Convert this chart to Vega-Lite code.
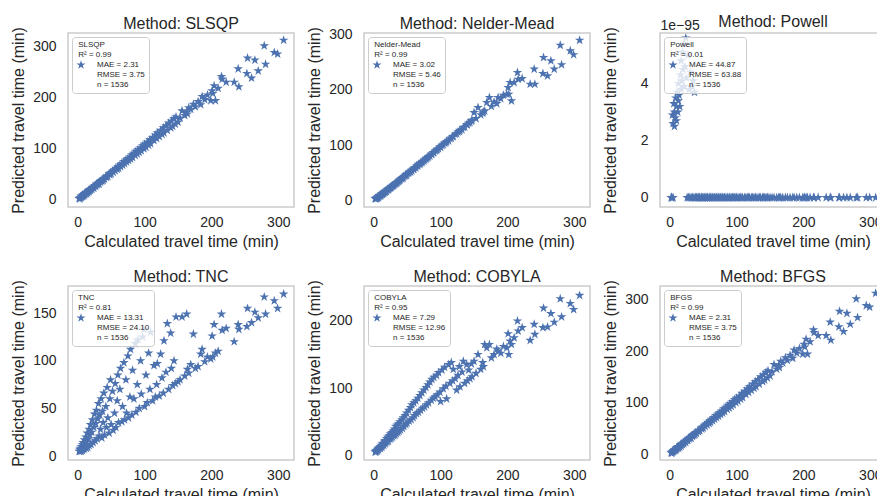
{
"$schema": "https://vega.github.io/schema/vega-lite/v6.json",
"background": "white",
"padding": {"left": 9, "top": 13, "right": 0, "bottom": 0},
"data": {"values": [
{"calc":2,"slsqp":3,"nm":4,"tnc":5,"cobyla":5,"powell":0},
{"calc":3,"slsqp":4,"nm":4,"tnc":7,"cobyla":6,"powell":0},
{"calc":3,"slsqp":2,"nm":5,"tnc":5,"cobyla":5,"powell":0},
{"calc":4,"slsqp":5,"nm":5,"tnc":8,"cobyla":7,"powell":2.9e-95},
{"calc":5,"slsqp":5,"nm":6,"tnc":5,"cobyla":8,"powell":2.6e-95},
{"calc":5,"slsqp":7,"nm":5,"tnc":10,"cobyla":6,"powell":0},
{"calc":6,"slsqp":7,"nm":7,"tnc":6,"cobyla":9,"powell":3.3e-95},
{"calc":7,"slsqp":7,"nm":8,"tnc":12,"cobyla":8,"powell":2.5e-95},
{"calc":7,"slsqp":9,"nm":6,"tnc":6,"cobyla":10,"powell":3.0e-95},
{"calc":8,"slsqp":9,"nm":9,"tnc":14,"cobyla":11,"powell":2.8e-95},
{"calc":9,"slsqp":8,"nm":10,"tnc":7,"cobyla":12,"powell":3.5e-95},
{"calc":10,"slsqp":12,"nm":10,"tnc":17,"cobyla":13,"powell":3.2e-95},
{"calc":10,"slsqp":10,"nm":9,"tnc":8,"cobyla":10,"powell":2.7e-95},
{"calc":11,"slsqp":12,"nm":11,"tnc":12,"cobyla":15,"powell":3.7e-95},
{"calc":12,"slsqp":14,"nm":12,"tnc":20,"cobyla":12,"powell":3.0e-95},
{"calc":13,"slsqp":12,"nm":12,"tnc":8,"cobyla":17,"powell":3.4e-95},
{"calc":13,"slsqp":15,"nm":13,"tnc":15,"cobyla":14,"powell":4.0e-95},
{"calc":14,"slsqp":15,"nm":14,"tnc":24,"cobyla":18,"powell":3.6e-95},
{"calc":15,"slsqp":14,"nm":14,"tnc":9,"cobyla":15,"powell":3.2e-95},
{"calc":16,"slsqp":18,"nm":16,"tnc":18,"cobyla":21,"powell":4.3e-95},
{"calc":17,"slsqp":19,"nm":16,"tnc":28,"cobyla":17,"powell":3.8e-95},
{"calc":17,"slsqp":16,"nm":17,"tnc":11,"cobyla":22,"powell":4.8e-95},
{"calc":18,"slsqp":20,"nm":18,"tnc":22,"cobyla":19,"powell":4.1e-95},
{"calc":19,"slsqp":19,"nm":17,"tnc":33,"cobyla":25,"powell":5.1e-95},
{"calc":20,"slsqp":22,"nm":20,"tnc":12,"cobyla":20,"powell":4.5e-95},
{"calc":21,"slsqp":21,"nm":21,"tnc":25,"cobyla":27,"powell":3.9e-95},
{"calc":22,"slsqp":24,"nm":20,"tnc":38,"cobyla":21,"powell":5.4e-95},
{"calc":23,"slsqp":25,"nm":22,"tnc":14,"cobyla":29,"powell":4.6e-95},
{"calc":24,"slsqp":23,"nm":23,"tnc":30,"cobyla":24,"powell":5.6e-95},
{"calc":25,"slsqp":27,"nm":24,"tnc":44,"cobyla":32,"powell":4.2e-95},
{"calc":26,"slsqp":28,"nm":25,"tnc":16,"cobyla":25,"powell":0},
{"calc":27,"slsqp":27,"nm":26,"tnc":34,"cobyla":34,"powell":5.0e-95},
{"calc":28,"slsqp":31,"nm":27,"tnc":48,"cobyla":27,"powell":0},
{"calc":29,"slsqp":30,"nm":28,"tnc":18,"cobyla":36,"powell":3.8e-95},
{"calc":30,"slsqp":32,"nm":28,"tnc":39,"cobyla":29,"powell":0},
{"calc":31,"slsqp":33,"nm":30,"tnc":55,"cobyla":39,"powell":4.4e-95},
{"calc":32,"slsqp":31,"nm":31,"tnc":21,"cobyla":30,"powell":0},
{"calc":33,"slsqp":36,"nm":31,"tnc":43,"cobyla":43,"powell":3.9e-95},
{"calc":34,"slsqp":35,"nm":33,"tnc":28,"cobyla":32,"powell":0},
{"calc":35,"slsqp":38,"nm":33,"tnc":60,"cobyla":45,"powell":4.1e-95},
{"calc":36,"slsqp":37,"nm":35,"tnc":19,"cobyla":34,"powell":0},
{"calc":37,"slsqp":40,"nm":35,"tnc":47,"cobyla":47,"powell":3.7e-95},
{"calc":38,"slsqp":38,"nm":37,"tnc":35,"cobyla":36,"powell":0},
{"calc":39,"slsqp":42,"nm":37,"tnc":66,"cobyla":50,"powell":0},
{"calc":40,"slsqp":41,"nm":39,"tnc":22,"cobyla":38,"powell":0},
{"calc":42,"slsqp":45,"nm":40,"tnc":52,"cobyla":53,"powell":0},
{"calc":43,"slsqp":44,"nm":42,"tnc":30,"cobyla":40,"powell":0},
{"calc":44,"slsqp":47,"nm":41,"tnc":72,"cobyla":56,"powell":0},
{"calc":45,"slsqp":46,"nm":44,"tnc":40,"cobyla":43,"powell":0},
{"calc":47,"slsqp":51,"nm":45,"tnc":24,"cobyla":59,"powell":0},
{"calc":48,"slsqp":49,"nm":47,"tnc":60,"cobyla":46,"powell":0},
{"calc":49,"slsqp":53,"nm":46,"tnc":80,"cobyla":63,"powell":0},
{"calc":50,"slsqp":51,"nm":49,"tnc":33,"cobyla":48,"powell":0},
{"calc":52,"slsqp":56,"nm":50,"tnc":68,"cobyla":67,"powell":0},
{"calc":53,"slsqp":54,"nm":52,"tnc":27,"cobyla":51,"powell":0},
{"calc":55,"slsqp":59,"nm":52,"tnc":45,"cobyla":71,"powell":0},
{"calc":56,"slsqp":57,"nm":55,"tnc":76,"cobyla":53,"powell":0},
{"calc":57,"slsqp":62,"nm":54,"tnc":30,"cobyla":75,"powell":0},
{"calc":59,"slsqp":60,"nm":57,"tnc":58,"cobyla":56,"powell":0},
{"calc":60,"slsqp":65,"nm":57,"tnc":85,"cobyla":78,"powell":0},
{"calc":61,"slsqp":62,"nm":60,"tnc":35,"cobyla":59,"powell":0},
{"calc":63,"slsqp":68,"nm":60,"tnc":70,"cobyla":81,"powell":0},
{"calc":64,"slsqp":65,"nm":63,"tnc":92,"cobyla":62,"powell":0},
{"calc":66,"slsqp":71,"nm":63,"tnc":36,"cobyla":85,"powell":0},
{"calc":67,"slsqp":68,"nm":66,"tnc":52,"cobyla":64,"powell":0},
{"calc":69,"slsqp":75,"nm":66,"tnc":98,"cobyla":89,"powell":0},
{"calc":70,"slsqp":71,"nm":68,"tnc":38,"cobyla":67,"powell":0},
{"calc":72,"slsqp":78,"nm":69,"tnc":80,"cobyla":93,"powell":0},
{"calc":73,"slsqp":74,"nm":71,"tnc":45,"cobyla":70,"powell":0},
{"calc":75,"slsqp":81,"nm":72,"tnc":105,"cobyla":97,"powell":0},
{"calc":76,"slsqp":77,"nm":74,"tnc":40,"cobyla":72,"powell":0},
{"calc":78,"slsqp":84,"nm":75,"tnc":62,"cobyla":101,"powell":0},
{"calc":79,"slsqp":80,"nm":77,"tnc":112,"cobyla":75,"powell":0},
{"calc":81,"slsqp":88,"nm":78,"tnc":43,"cobyla":105,"powell":0},
{"calc":82,"slsqp":83,"nm":80,"tnc":90,"cobyla":78,"powell":0},
{"calc":84,"slsqp":91,"nm":81,"tnc":60,"cobyla":109,"powell":0},
{"calc":86,"slsqp":87,"nm":84,"tnc":118,"cobyla":82,"powell":0},
{"calc":87,"slsqp":95,"nm":84,"tnc":46,"cobyla":113,"powell":0},
{"calc":89,"slsqp":90,"nm":87,"tnc":75,"cobyla":85,"powell":0},
{"calc":90,"slsqp":98,"nm":87,"tnc":122,"cobyla":116,"powell":0},
{"calc":92,"slsqp":93,"nm":90,"tnc":50,"cobyla":87,"powell":0},
{"calc":94,"slsqp":102,"nm":91,"tnc":100,"cobyla":119,"powell":0},
{"calc":95,"slsqp":96,"nm":93,"tnc":65,"cobyla":90,"powell":0},
{"calc":97,"slsqp":106,"nm":94,"tnc":125,"cobyla":123,"powell":0},
{"calc":99,"slsqp":100,"nm":97,"tnc":133,"cobyla":94,"powell":0},
{"calc":100,"slsqp":109,"nm":97,"tnc":52,"cobyla":80,"powell":0},
{"calc":102,"slsqp":103,"nm":100,"tnc":85,"cobyla":127,"powell":0},
{"calc":104,"slsqp":113,"nm":101,"tnc":56,"cobyla":99,"powell":0},
{"calc":106,"slsqp":107,"nm":104,"tnc":108,"cobyla":131,"powell":0},
{"calc":108,"slsqp":118,"nm":105,"tnc":70,"cobyla":103,"powell":0},
{"calc":109,"slsqp":110,"nm":107,"tnc":130,"cobyla":84,"powell":0},
{"calc":112,"slsqp":122,"nm":108,"tnc":58,"cobyla":135,"powell":0},
{"calc":114,"slsqp":116,"nm":112,"tnc":95,"cobyla":107,"powell":0},
{"calc":116,"slsqp":127,"nm":113,"tnc":62,"cobyla":138,"powell":0},
{"calc":118,"slsqp":120,"nm":116,"tnc":75,"cobyla":111,"powell":0},
{"calc":119,"slsqp":131,"nm":116,"tnc":97,"cobyla":128,"powell":0},
{"calc":122,"slsqp":124,"nm":120,"tnc":63,"cobyla":114,"powell":0},
{"calc":124,"slsqp":136,"nm":121,"tnc":107,"cobyla":97,"powell":0},
{"calc":126,"slsqp":128,"nm":124,"tnc":82,"cobyla":119,"powell":0},
{"calc":128,"slsqp":141,"nm":125,"tnc":66,"cobyla":132,"powell":0},
{"calc":129,"slsqp":131,"nm":127,"tnc":121,"cobyla":102,"powell":0},
{"calc":132,"slsqp":145,"nm":128,"tnc":88,"cobyla":124,"powell":0},
{"calc":134,"slsqp":136,"nm":132,"tnc":139,"cobyla":140,"powell":0},
{"calc":136,"slsqp":150,"nm":133,"tnc":70,"cobyla":107,"powell":0},
{"calc":139,"slsqp":141,"nm":137,"tnc":129,"cobyla":135,"powell":0},
{"calc":140,"slsqp":154,"nm":137,"tnc":92,"cobyla":111,"powell":0},
{"calc":142,"slsqp":144,"nm":140,"tnc":74,"cobyla":127,"powell":0},
{"calc":144,"slsqp":159,"nm":141,"tnc":100,"cobyla":114,"powell":0},
{"calc":146,"slsqp":148,"nm":144,"tnc":76,"cobyla":136,"powell":0},
{"calc":147,"slsqp":162,"nm":145,"tnc":146,"cobyla":117,"powell":0},
{"calc":150,"slsqp":152,"nm":159,"tnc":78,"cobyla":140,"powell":0},
{"calc":153,"slsqp":160,"nm":148,"tnc":80,"cobyla":122,"powell":0},
{"calc":156,"slsqp":174,"nm":168,"tnc":146,"cobyla":150,"powell":0},
{"calc":160,"slsqp":165,"nm":155,"tnc":84,"cobyla":128,"powell":0},
{"calc":163,"slsqp":172,"nm":158,"tnc":149,"cobyla":138,"powell":0},
{"calc":164,"slsqp":168,"nm":160,"tnc":91,"cobyla":132,"powell":0},
{"calc":166,"slsqp":180,"nm":162,"tnc":87,"cobyla":165,"powell":0},
{"calc":169,"slsqp":177,"nm":177,"tnc":96,"cobyla":160,"powell":0},
{"calc":173,"slsqp":187,"nm":186,"tnc":128,"cobyla":165,"powell":0},
{"calc":176,"slsqp":182,"nm":170,"tnc":92,"cobyla":145,"powell":0},
{"calc":180,"slsqp":192,"nm":178,"tnc":94,"cobyla":150,"powell":0},
{"calc":184,"slsqp":186,"nm":175,"tnc":107,"cobyla":158,"powell":0},
{"calc":186,"slsqp":202,"nm":186,"tnc":112,"cobyla":155,"powell":0},
{"calc":190,"slsqp":196,"nm":184,"tnc":99,"cobyla":152,"powell":0},
{"calc":194,"slsqp":205,"nm":190,"tnc":104,"cobyla":162,"powell":0},
{"calc":199,"slsqp":194,"nm":192,"tnc":102,"cobyla":160,"powell":0},
{"calc":201,"slsqp":213,"nm":204,"tnc":126,"cobyla":181,"powell":0},
{"calc":202,"slsqp":208,"nm":192,"tnc":104,"cobyla":150,"powell":0},
{"calc":204,"slsqp":223,"nm":213,"tnc":138,"cobyla":170,"powell":0},
{"calc":206,"slsqp":194,"nm":180,"tnc":108,"cobyla":165,"powell":0},
{"calc":210,"slsqp":218,"nm":213,"tnc":110,"cobyla":175,"powell":0},
{"calc":215,"slsqp":241,"nm":231,"tnc":149,"cobyla":200,"powell":0},
{"calc":216,"slsqp":236,"nm":219,"tnc":132,"cobyla":185,"powell":0},
{"calc":222,"slsqp":230,"nm":220,"tnc":134,"cobyla":190,"powell":0},
{"calc":234,"slsqp":230,"nm":210,"tnc":120,"cobyla":171,"powell":0},
{"calc":240,"slsqp":256,"nm":237,"tnc":138,"cobyla":195,"powell":0},
{"calc":241,"slsqp":221,"nm":210,"tnc":133,"cobyla":180,"powell":0},
{"calc":253,"slsqp":247,"nm":229,"tnc":136,"cobyla":190,"powell":0},
{"calc":254,"slsqp":277,"nm":258,"tnc":155,"cobyla":219,"powell":0},
{"calc":260,"slsqp":238,"nm":225,"tnc":140,"cobyla":191,"powell":0},
{"calc":265,"slsqp":273,"nm":252,"tnc":151,"cobyla":211,"powell":0},
{"calc":270,"slsqp":252,"nm":237,"tnc":145,"cobyla":198,"powell":0},
{"calc":279,"slsqp":301,"nm":280,"tnc":167,"cobyla":233,"powell":0},
{"calc":281,"slsqp":265,"nm":245,"tnc":149,"cobyla":206,"powell":0},
{"calc":294,"slsqp":288,"nm":270,"tnc":163,"cobyla":226,"powell":0},
{"calc":299,"slsqp":285,"nm":263,"tnc":155,"cobyla":217,"powell":0},
{"calc":308,"slsqp":312,"nm":289,"tnc":170,"cobyla":238,"powell":0}
]},
"config": {
"font": "Liberation Sans",
"view": {"stroke": "#cccccc", "strokeWidth": 1.5},
"axis": {"grid": false, "ticks": false, "domain": false, "labelFontSize": 14, "labelColor": "#262626", "titleFontSize": 16, "titleFontWeight": "normal", "titleColor": "#262626", "labelPadding": 8, "labelFlush": false},
"axisY": {"labelPadding": 12, "titlePadding": 6},
"axisX": {"titlePadding": 4},
"title": {"fontSize": 16, "fontWeight": "normal", "color": "#262626", "offset": -5},
"legend": {"orient": "top-left", "offset": 4, "padding": 4, "fillColor": "rgba(255,255,255,0.8)", "strokeColor": "#cccccc", "cornerRadius": 3, "labelFontSize": 8, "labelColor": "#262626", "labelLimit": 300, "labelOffset": 11, "symbolSize": 90, "symbolFillColor": "#4c72b0", "symbolStrokeWidth": 0, "titleFontSize": 8, "titleFontWeight": "normal", "titleColor": "#262626", "titlePadding": 1, "titleLimit": 300}
},
"resolve": {"scale": {"shape": "independent"}, "legend": {"shape": "independent"}},
"spacing": 17,
"vconcat": [
{"hconcat": [
{"width": 226, "height": 174, "title": "Method: SLSQP",
 "mark": {"type": "point", "filled": true, "size": 100, "color": "#4c72b0", "opacity": 1},
 "encoding": {
  "x": {"field": "calc", "type": "quantitative", "scale": {"domain": [-14.6, 323.5], "nice": false, "zero": false}, "axis": {"values": [0, 100, 200, 300], "title": "Calculated travel time (min)"}},
  "y": {"field": "slsqp", "type": "quantitative", "scale": {"domain": [-13.7, 326], "nice": false, "zero": false}, "axis": {"values": [0, 100, 200, 300], "title": "Predicted travel time (min)"}},
  "shape": {"datum": "MAE = 2.31|RMSE = 3.75|n = 1536", "scale": {"range": ["M0,-1L0.2245,-0.309L0.951,-0.309L0.363,0.118L0.588,0.809L0,0.382L-0.588,0.809L-0.363,0.118L-0.951,-0.309L-0.2245,-0.309Z"]}, "legend": {"title": ["\u200b         SLSQP", "\u200b         R² = 0.99"], "labelExpr": "split(datum.label, '|')"}}
 }},
{"width": 226, "height": 174, "title": "Method: Nelder-Mead",
 "mark": {"type": "point", "filled": true, "size": 100, "color": "#4c72b0", "opacity": 1},
 "encoding": {
  "x": {"field": "calc", "type": "quantitative", "scale": {"domain": [-14.6, 323.5], "nice": false, "zero": false}, "axis": {"values": [0, 100, 200, 300], "title": "Calculated travel time (min)"}},
  "y": {"field": "nm", "type": "quantitative", "scale": {"domain": [-10.8, 302], "nice": false, "zero": false}, "axis": {"values": [0, 100, 200, 300], "title": "Predicted travel time (min)"}},
  "shape": {"datum": "MAE = 3.02|RMSE = 5.46|n = 1536", "scale": {"range": ["M0,-1L0.2245,-0.309L0.951,-0.309L0.363,0.118L0.588,0.809L0,0.382L-0.588,0.809L-0.363,0.118L-0.951,-0.309L-0.2245,-0.309Z"]}, "legend": {"title": ["\u200b         Nelder-Mead", "\u200b         R² = 0.99"], "labelExpr": "split(datum.label, '|')"}}
 }},
{"width": 226, "height": 174, "title": {"text": "Method: Powell", "offset": -12},
 "layer": [
  {"mark": {"type": "point", "filled": true, "size": 100, "color": "#4c72b0", "opacity": 1},
   "encoding": {
    "x": {"field": "calc", "type": "quantitative", "scale": {"domain": [-14.6, 323.5], "nice": false, "zero": false}, "axis": {"values": [0, 100, 200, 300], "title": "Calculated travel time (min)"}},
    "y": {"field": "powell", "type": "quantitative", "scale": {"domain": [-0.33e-95, 5.78e-95], "nice": false, "zero": false}, "axis": {"orient": "left", "values": [0, 2e-95, 4e-95], "labelExpr": "format(datum.value * 1e95, '.0f')", "title": "Predicted travel time (min)", "titlePadding": 22}},
    "shape": {"datum": "MAE = 44.87|RMSE = 63.88|n = 1536", "scale": {"range": ["M0,-1L0.2245,-0.309L0.951,-0.309L0.363,0.118L0.588,0.809L0,0.382L-0.588,0.809L-0.363,0.118L-0.951,-0.309L-0.2245,-0.309Z"]}, "legend": {"title": ["\u200b         Powell", "\u200b         R² = 0.01"], "labelExpr": "split(datum.label, '|')"}}
   }},
  {"mark": {"type": "rule", "opacity": 0},
   "encoding": {
    "y": {"datum": 0, "type": "quantitative", "scale": {"domain": [-0.33e-95, 5.78e-95], "nice": false, "zero": false}, "axis": {"orient": "left", "title": "1e\u221295", "titleAngle": 0, "titleAlign": "left", "titleBaseline": "alphabetic", "titleX": 0, "titleY": -4, "titleFontSize": 14, "labels": false, "ticks": false, "domain": false, "grid": false}}
   }}
 ],
 "resolve": {"axis": {"y": "independent"}}
}
], "spacing": 10, "resolve": {"scale": {"shape": "independent"}, "legend": {"shape": "independent"}}},
{"hconcat": [
{"width": 226, "height": 174, "title": "Method: TNC",
 "mark": {"type": "point", "filled": true, "size": 100, "color": "#4c72b0", "opacity": 1},
 "encoding": {
  "x": {"field": "calc", "type": "quantitative", "scale": {"domain": [-14.6, 323.5], "nice": false, "zero": false}, "axis": {"values": [0, 100, 200, 300], "title": "Calculated travel time (min)"}},
  "y": {"field": "tnc", "type": "quantitative", "scale": {"domain": [-4.2, 178.5], "nice": false, "zero": false}, "axis": {"values": [0, 50, 100, 150], "title": "Predicted travel time (min)"}},
  "shape": {"datum": "MAE = 13.31|RMSE = 24.10|n = 1536", "scale": {"range": ["M0,-1L0.2245,-0.309L0.951,-0.309L0.363,0.118L0.588,0.809L0,0.382L-0.588,0.809L-0.363,0.118L-0.951,-0.309L-0.2245,-0.309Z"]}, "legend": {"title": ["\u200b         TNC", "\u200b         R² = 0.81"], "labelExpr": "split(datum.label, '|')"}}
 }},
{"width": 226, "height": 174, "title": "Method: COBYLA",
 "mark": {"type": "point", "filled": true, "size": 100, "color": "#4c72b0", "opacity": 1},
 "encoding": {
  "x": {"field": "calc", "type": "quantitative", "scale": {"domain": [-14.6, 323.5], "nice": false, "zero": false}, "axis": {"values": [0, 100, 200, 300], "title": "Calculated travel time (min)"}},
  "y": {"field": "cobyla", "type": "quantitative", "scale": {"domain": [-7, 252], "nice": false, "zero": false}, "axis": {"values": [0, 100, 200], "title": "Predicted travel time (min)"}},
  "shape": {"datum": "MAE = 7.29|RMSE = 12.96|n = 1536", "scale": {"range": ["M0,-1L0.2245,-0.309L0.951,-0.309L0.363,0.118L0.588,0.809L0,0.382L-0.588,0.809L-0.363,0.118L-0.951,-0.309L-0.2245,-0.309Z"]}, "legend": {"title": ["\u200b         COBYLA", "\u200b         R² = 0.95"], "labelExpr": "split(datum.label, '|')"}}
 }},
{"width": 226, "height": 174, "title": "Method: BFGS",
 "mark": {"type": "point", "filled": true, "size": 100, "color": "#4c72b0", "opacity": 1},
 "encoding": {
  "x": {"field": "calc", "type": "quantitative", "scale": {"domain": [-14.6, 323.5], "nice": false, "zero": false}, "axis": {"values": [0, 100, 200, 300], "title": "Calculated travel time (min)"}},
  "y": {"field": "slsqp", "type": "quantitative", "scale": {"domain": [-11, 326], "nice": false, "zero": false}, "axis": {"values": [0, 100, 200, 300], "title": "Predicted travel time (min)"}},
  "shape": {"datum": "MAE = 2.31|RMSE = 3.75|n = 1536", "scale": {"range": ["M0,-1L0.2245,-0.309L0.951,-0.309L0.363,0.118L0.588,0.809L0,0.382L-0.588,0.809L-0.363,0.118L-0.951,-0.309L-0.2245,-0.309Z"]}, "legend": {"title": ["\u200b         BFGS", "\u200b         R² = 0.99"], "labelExpr": "split(datum.label, '|')"}}
 }}
], "spacing": 10, "resolve": {"scale": {"shape": "independent"}, "legend": {"shape": "independent"}}}
]
}
